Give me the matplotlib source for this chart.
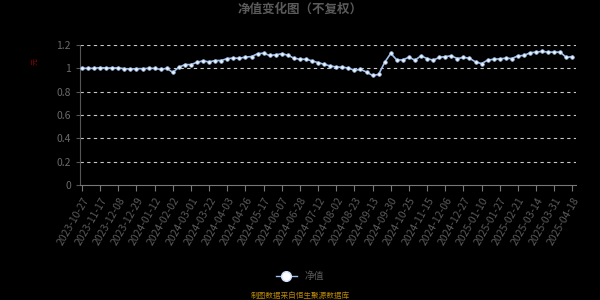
import matplotlib
matplotlib.use("Agg")
import matplotlib.pyplot as plt
from matplotlib.lines import Line2D

plt.rcParams['font.family'] = ['Noto Sans CJK SC', 'DejaVu Sans']

# 净值 (每周)
nav = [1.000, 1.000, 1.000, 1.006, 1.003, 1.003, 1.003, 0.997, 0.994, 0.997,
       0.997, 1.000, 1.000, 0.991, 1.000, 0.965, 1.009, 1.032, 1.032, 1.052,
       1.064, 1.055, 1.067, 1.067, 1.084, 1.087, 1.087, 1.096, 1.101, 1.125,
       1.130, 1.110, 1.116, 1.125, 1.113, 1.087, 1.078, 1.078, 1.064, 1.049,
       1.035, 1.020, 1.012, 1.009, 1.003, 0.983, 0.991, 0.968, 0.939, 0.948,
       1.052, 1.128, 1.072, 1.072, 1.096, 1.070, 1.107, 1.084, 1.070, 1.093,
       1.101, 1.107, 1.084, 1.093, 1.087, 1.055, 1.041, 1.070, 1.078, 1.081,
       1.087, 1.084, 1.107, 1.110, 1.133, 1.139, 1.145, 1.139, 1.139, 1.139,
       1.093, 1.101]

# 每3个点一个标签
tick_labels = ['2023-10-27', '2023-11-17', '2023-12-08', '2023-12-29', '2024-01-12',
               '2024-02-02', '2024-03-01', '2024-03-22', '2024-04-03', '2024-04-26',
               '2024-05-17', '2024-06-07', '2024-06-28', '2024-07-12', '2024-08-02',
               '2024-08-23', '2024-09-13', '2024-09-30', '2024-10-25', '2024-11-15',
               '2024-12-06', '2024-12-27', '2025-01-10', '2025-01-27', '2025-02-21',
               '2025-03-14', '2025-03-31', '2025-04-18']

fig = plt.figure(figsize=(6, 3), dpi=100, facecolor='black')
ax = fig.add_axes([80 / 600, 115 / 300, 496 / 600, 140 / 300], facecolor='black')

x = list(range(len(nav)))
ax.plot(x, nav, color='#9ec0ea', lw=1.2, marker='o', ms=2.6,
        mfc='#eaf2ff', mec='#9ec0ea', mew=0.5, zorder=3)

ax.set_ylim(0, 1.2)
ax.set_xlim(-0.33, len(nav) - 1 + 0.6)
ax.set_yticks([0, 0.2, 0.4, 0.6, 0.8, 1.0, 1.2])
ax.set_yticklabels(['0', '0.2', '0.4', '0.6', '0.8', '1', '1.2'])
for v in [0.2, 0.4, 0.6, 0.8, 1.0, 1.2]:
    ax.axhline(v, color='#c8c8c8', lw=0.8, dashes=(3, 3), zorder=1)

ax.set_xticks(range(0, len(nav), 3))
ax.set_xticklabels(tick_labels, rotation=60, ha='right', rotation_mode='anchor')

for s in ['top', 'right']:
    ax.spines[s].set_visible(False)
ax.spines['left'].set_color('#555555')
ax.spines['bottom'].set_color('#777777')
ax.tick_params(axis='x', colors='#777777', labelcolor='#5a5a5a', labelsize=7.5,
               length=4, width=0.8)
ax.tick_params(axis='y', colors='#555555', labelcolor='#6a6a6a', labelsize=7.5,
               length=3, width=0.8)

ax.text(-0.09, 0.88, '元', transform=ax.transAxes, color='#8b0000', fontsize=5,
        rotation=90, ha='center', va='center')

fig.text(0.5, 1 - 9 / 300, '净值变化图（不复权）', color='#5a5a5a', fontsize=9,
         fontweight='bold', ha='center', va='center')

handle = Line2D([], [], color='#9ec0ea', lw=1, marker='o', ms=7,
                mfc='white', mec='#cfe0ff', mew=1)
leg = fig.legend([handle], ['净值'], loc='center', bbox_to_anchor=(0.5, 1 - 276 / 300),
                 frameon=False, fontsize=7, handlelength=2.2, labelcolor='#5a5a5a')

fig.text(0.5, 1 - 296 / 300, '制图数据来自恒生聚源数据库', color='#b8860b',
         fontsize=5.5, ha='center', va='center')

fig.savefig('out.png', dpi=100, facecolor='black')
